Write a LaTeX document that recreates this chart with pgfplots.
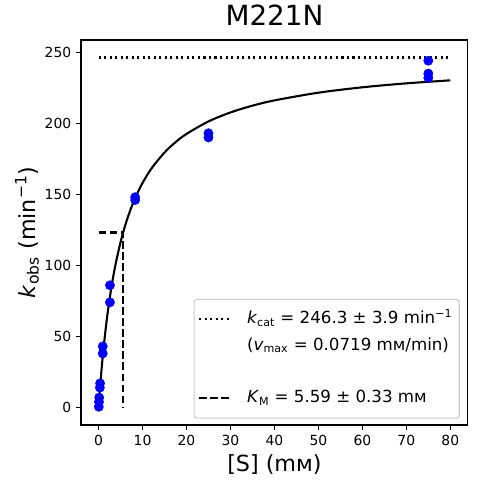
\documentclass[border=0pt]{standalone}
\usepackage{fontspec}
\setmainfont{DejaVu Sans}
\usepackage{pgfplots}
\pgfplotsset{compat=1.18}
\begin{document}
\begin{tikzpicture}
\path[use as bounding box] (-58.3pt,-42.5pt) rectangle (285.1pt,306pt);
\begin{axis}[
  at={(0pt,0pt)}, anchor=south west,
  scale only axis, width=278.6pt, height=277.2pt,
  xmin=-4, xmax=84, ymin=-12.3, ymax=258.6,
  xtick={0,10,...,80}, ytick={0,50,...,250},
  tick align=outside, major tick length=3.5pt,
  tick pos=left,
  every tick/.style={black, line width=0.8pt},
  axis line style={line width=0.8pt},
  tick label style={font=\fontsize{10}{12}\selectfont},
  /pgf/number format/assume math mode=true,
  clip=false,
  legend cell align=left,
  legend style={at={(rel axis cs:1,0)}, anchor=south east, xshift=-5.8pt, yshift=4.5pt,
    draw=black!20, rounded corners=2pt, line width=0.8pt,
    inner xsep=3pt, inner ysep=5pt,
    font=\fontsize{12}{14}\selectfont,
    nodes={text height=10.5pt, text depth=4pt},
    /tikz/every odd column/.append style={column sep=10pt},
    row sep=0.5pt},
  legend image code/.code={\draw[#1] (0pt,0pt) -- (21.6pt,0pt);},
]
% fitted Michaelis-Menten curve (values computed from kcat=246.3, KM=5.59)
\addplot[black, line width=1.5pt, smooth, forget plot] coordinates {
(0,0) (0.25,10.54) (0.5,20.22) (0.75,29.14) (1,37.37) (1.5,52.11) (2,64.90) (2.5,76.11)
(3,86.02) (3.5,94.84) (4,102.73) (5,116.29) (6,127.51) (7,136.94) (8,144.99) (9,151.93)
(10,157.99) (12,168.03) (15,179.43) (17.5,186.67) (20,192.50) (25,201.29) (30,207.61)
(35,212.38) (40,216.10) (50,221.53) (60,225.31) (70,228.09) (80,230.21)};
\addplot[black, line width=1.5pt, dash pattern=on 1.5pt off 2.475pt, forget plot] coordinates {(0,246.3) (80,246.3)};
\addplot[black, line width=1.5pt, dash pattern=on 5.55pt off 2.4pt, forget plot] coordinates {(0,123.15) (5.59,123.15) (5.59,0)};
\addplot[only marks, mark=*, mark size=3.3pt, blue, mark options={draw=blue, fill=blue, line width=0.4pt}, forget plot] coordinates {
(0.05,0.5) (0.1,4) (0.15,7) (0.3,14) (0.35,17)
(0.95,38) (0.95,43) (2.6,74) (2.6,86)
(8.33,146) (8.33,148) (25,190) (25,193)
(75,232) (75,235) (75,244)};
\addlegendimage{black, line width=1.5pt, dash pattern=on 1.5pt off 2.475pt}
\addlegendentry{\textit{k}\textsubscript{cat} = 246.3 ± 3.9 min\textsuperscript{−1}}
\addlegendimage{empty legend}
\addlegendentry{(\textit{v}\textsubscript{max} = 0.0719 mᴍ/min)}
\addlegendimage{empty legend}
\addlegendentry{}
\addlegendimage{black, line width=1.5pt, dash pattern=on 5.55pt off 2.4pt}
\addlegendentry{\textit{K}\textsubscript{M} = 5.59 ± 0.33 mᴍ}
\node[anchor=base, yshift=10.5pt, font=\fontsize{20}{24}\selectfont] at (rel axis cs:0.5,1) {M221N};
\node[anchor=center, yshift=-28.8pt, font=\fontsize{16}{19}\selectfont] at (rel axis cs:0.5,0) {[S] (mᴍ)};
\node[anchor=center, rotate=90, xshift=0pt, font=\fontsize{16}{19}\selectfont] at ([xshift=-38.9pt]rel axis cs:0,0.5) {\textit{k}\textsubscript{obs} (min\textsuperscript{−1})};
\end{axis}
\end{tikzpicture}
\end{document}
